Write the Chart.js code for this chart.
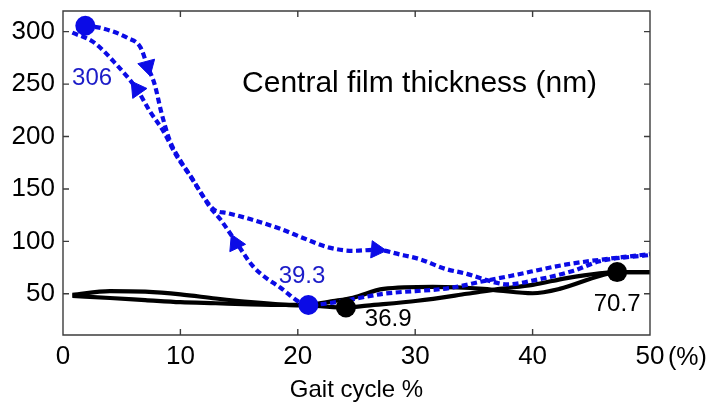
<!DOCTYPE html>
<html>
<head>
<meta charset="utf-8">
<script src="https://cdn.jsdelivr.net/npm/chart.js@4.4.1/dist/chart.umd.min.js"></script>
<style>
  html, body { margin: 0; padding: 0; background: #fff; }
  #wrap { width: 711px; height: 409px; }
</style>
</head>
<body>
<div id="wrap"><canvas id="c" width="711" height="409"></canvas></div>
<script>
// Central film thickness over the gait cycle: blue dashed loop and black solid loop,
// Matlab-style boxed axes with inward ticks.

const X_TICKS = [0, 10, 20, 30, 40, 50];
const Y_TICKS = [50, 100, 150, 200, 250, 300];
const X_MIN = 0, X_MAX = 50;
const Y_MIN = 10.7, Y_MAX = 319.7;

// blue dashed loop – upper branch, leaving the 306 peak
const blueUpperX = [1.9, 3.4, 5.5, 6.6, 7.2, 7.8, 8.4, 9.1, 10, 11, 12, 12.9, 14, 16, 18.5, 20.5, 22.7, 24.7, 26.7, 28.7, 30.4, 32.5, 34.4, 36.4, 37.8, 40.6, 43.5, 45.7, 50];
const blueUpperY = [306, 303, 294, 285, 267, 250, 222, 196, 177, 160, 142, 130, 127, 121, 112, 103, 94, 91, 92, 87.5, 83, 74, 69, 62, 59, 64, 72, 81, 87];

// blue dashed loop – lower branch, through the 39.3 minimum
const blueLowerX = [0.8, 2.6, 4.6, 6.3, 7.4, 8.5, 9.7, 10.8, 11.7, 12.5, 13.4, 14.7, 16.2, 18.5, 20.9, 23, 27.3, 33, 35.8, 38.1, 42.9, 50];
const blueLowerY = [299, 290, 268, 245, 224, 206, 181, 163, 147, 133, 121, 100, 76, 56, 39.3, 41.6, 50, 55.6, 62, 67, 78, 88];

// black solid loop – branch through the 36.9 minimum
const blackAX = [0.8, 4, 7, 10, 13, 16, 19, 21.5, 24.1, 25.9, 30.2, 34.4, 37.2, 40, 42.9, 45.7, 47.2, 50];
const blackAY = [49, 52.5, 52, 49.5, 45.5, 42, 39.5, 38.5, 36.9, 38.8, 43.4, 50, 54.7, 58.5, 65, 69.5, 70.7, 70.6];

// black solid loop – other branch
const blackBX = [0.8, 4, 7, 10, 13, 16, 19, 21.5, 23, 24.7, 27.3, 31.5, 35.8, 37.2, 40, 42.3, 45.7, 47.2, 50];
const blackBY = [48, 46, 44, 42, 41, 40, 39.5, 40.5, 43, 46.3, 54.7, 56.6, 54.7, 53, 50.5, 54.7, 67, 70.7, 70.6];

// highlighted extremes
const blueMarkX = [1.9, 20.9];
const blueMarkY = [305.6, 39.3];
const blackMarkX = [24.1, 47.2];
const blackMarkY = [36.9, 70.7];

// direction arrows on the blue loop
const arrowX = [7.2, 6.3, 14.7, 26.7];
const arrowY = [267, 245, 98, 92];
const ARROW_ROT = [165, -35, -25, 95];

const BLUE = '#0b0be6';
const BLUE_TXT = '#1c1cc8';
const FONT = "'Liberation Sans', Arial, sans-serif";

// text notes, anchored in data units
const NOTES = [
  { text: 'Central film thickness (nm)', x: 15.25, y: 250.4, align: 'left', color: '#000', size: 30 },
  { text: '306', x: 0.77, y: 255.5, align: 'left', color: BLUE_TXT, size: 24 },
  { text: '39.3', x: 20.36, y: 66.9, align: 'center', color: BLUE_TXT, size: 24 },
  { text: '36.9', x: 27.7, y: 25.7, align: 'center', color: '#000', size: 24 },
  { text: '70.7', x: 47.2, y: 39.7, align: 'center', color: '#000', size: 24 },
];

const zip = (xs, ys) => xs.map((x, i) => ({ x, y: ys[i] }));
const TICK = 6;

const boxPlugin = {
  id: 'box',
  afterDatasetsDraw(chart) {
    const { ctx, chartArea: a, scales: { x, y } } = chart;
    ctx.save();
    ctx.strokeStyle = '#3c3c3c';
    ctx.lineWidth = 1.4;
    ctx.beginPath();
    ctx.rect(a.left, a.top, a.right - a.left, a.bottom - a.top);
    X_TICKS.forEach(v => {
      const p = x.getPixelForValue(v);
      ctx.moveTo(p, a.bottom); ctx.lineTo(p, a.bottom - TICK);
      ctx.moveTo(p, a.top); ctx.lineTo(p, a.top + TICK);
    });
    Y_TICKS.forEach(v => {
      const p = y.getPixelForValue(v);
      ctx.moveTo(a.left, p); ctx.lineTo(a.left + TICK, p);
      ctx.moveTo(a.right, p); ctx.lineTo(a.right - TICK, p);
    });
    ctx.stroke();

    ctx.textBaseline = 'middle';
    NOTES.forEach(n => {
      ctx.font = n.size + 'px ' + FONT;
      ctx.fillStyle = n.color;
      ctx.textAlign = n.align;
      ctx.fillText(n.text, x.getPixelForValue(n.x), y.getPixelForValue(n.y));
    });

    // unit after the last x tick
    ctx.font = '25px ' + FONT;
    ctx.fillStyle = '#000';
    ctx.textAlign = 'left';
    ctx.fillText('(%)', x.getPixelForValue(X_MAX) + 18, a.bottom + 23);
    ctx.restore();
  }
};

const lineDs = (label, xs, ys, color, dash, width) => ({
  label, type: 'scatter', data: zip(xs, ys), showLine: true,
  borderColor: color, borderWidth: width, borderDash: dash, borderCapStyle: 'butt',
  pointRadius: 0, cubicInterpolationMode: 'monotone', fill: false,
});

new Chart(document.getElementById('c'), {
  type: 'scatter',
  data: {
    datasets: [
      { label: 'blue min/max', data: zip(blueMarkX, blueMarkY), pointRadius: 10, pointBackgroundColor: BLUE, pointBorderWidth: 0 },
      { label: 'black min/max', data: zip(blackMarkX, blackMarkY), pointRadius: 10, pointBackgroundColor: '#000', pointBorderWidth: 0 },
      { label: 'arrows', data: zip(arrowX, arrowY), pointStyle: 'triangle', pointRadius: 10, pointRotation: ARROW_ROT, pointBackgroundColor: BLUE, pointBorderColor: BLUE, pointBorderWidth: 1 },
      lineDs('blue upper', blueUpperX, blueUpperY, BLUE, [6, 3.5], 4.2),
      lineDs('blue lower', blueLowerX, blueLowerY, BLUE, [6, 3.5], 4.2),
      lineDs('black A', blackAX, blackAY, '#000', [], 4.2),
      lineDs('black B', blackBX, blackBY, '#000', [], 4.2),
    ],
  },
  options: {
    responsive: false,
    animation: false,
    devicePixelRatio: 1,
    layout: { padding: { top: 5, right: 61, left: 0, bottom: 0 } },
    plugins: { legend: { display: false }, tooltip: { enabled: false } },
    scales: {
      x: {
        type: 'linear', min: X_MIN, max: X_MAX,
        afterBuildTicks: s => { s.ticks = X_TICKS.map(v => ({ value: v })); },
        afterFit: s => { s.height = 74; s.paddingLeft = 0; s.paddingRight = 0; },
        grid: { display: false, drawTicks: false },
        border: { display: false },
        ticks: { color: '#000', font: { size: 26, family: FONT }, padding: 6, maxRotation: 0 },
        title: { display: true, text: 'Gait cycle %', color: '#000', font: { size: 24, family: FONT }, padding: { top: 0, bottom: 4 } },
      },
      y: {
        type: 'linear', min: Y_MIN, max: Y_MAX,
        afterBuildTicks: s => { s.ticks = Y_TICKS.map(v => ({ value: v })); },
        afterFit: s => { s.width = 63; s.paddingTop = 0; s.paddingBottom = 0; },
        grid: { display: false, drawTicks: false },
        border: { display: false },
        ticks: { color: '#000', font: { size: 26, family: FONT }, padding: 8 },
      },
    },
  },
  plugins: [boxPlugin],
});
</script>
</body>
</html>
